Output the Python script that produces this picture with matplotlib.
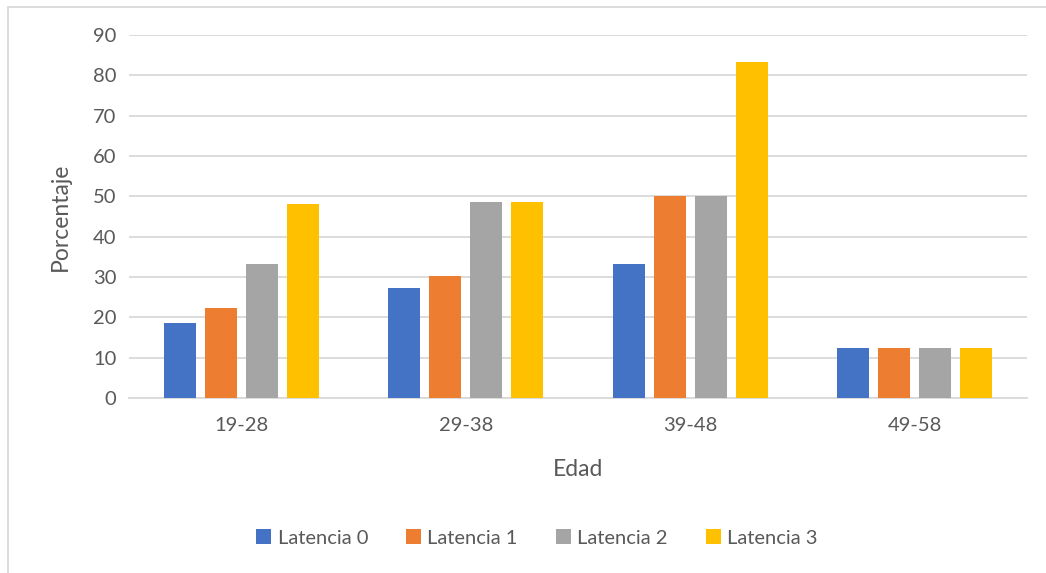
import matplotlib.pyplot as plt
import numpy as np
from matplotlib.patches import Rectangle

plt.rcParams['font.family'] = ['Lato', 'DejaVu Sans']

# datos por grupo de edad
edades = ['19-28', '29-38', '39-48', '49-58']
series = ['Latencia 0', 'Latencia 1', 'Latencia 2', 'Latencia 3']
latencia0 = [18.5, 27.3, 33.3, 12.5]
latencia1 = [22.2, 30.3, 50.0, 12.5]
latencia2 = [33.3, 48.5, 50.0, 12.5]
latencia3 = [48.1, 48.5, 83.3, 12.5]
colores = ['#4472C4', '#ED7D31', '#A5A5A5', '#FFC000']

gris_texto = '#595959'
gris_linea = '#D9D9D9'

fig = plt.figure(figsize=(10.46, 5.73), dpi=100)
ax = fig.add_axes([129/1046, 1 - 398/573, (1027-129)/1046, (398-35)/573])

x = np.arange(len(edades))
paso = 0.1826
ancho = 0.1425
for i, (vals, nombre) in enumerate(zip([latencia0, latencia1, latencia2, latencia3], series)):
    ax.bar(x + (i - 1.5) * paso, vals, ancho, color=colores[i], label=nombre, zorder=3)

ax.set_xlim(-0.5, len(edades) - 0.5)
ax.set_ylim(0, 90)
ax.set_yticks(range(0, 91, 10))
ax.set_xticks(x)
ax.set_xticklabels(edades)
ax.yaxis.grid(True, color=gris_linea, linewidth=1.3, zorder=0)
for lado in ['top', 'right', 'left']:
    ax.spines[lado].set_visible(False)
ax.spines['bottom'].set_color(gris_linea)
ax.spines['bottom'].set_linewidth(1.3)
ax.tick_params(axis='both', length=0, labelsize=14.5, colors=gris_texto)
ax.tick_params(axis='x', pad=14)
ax.tick_params(axis='y', pad=9)

ax.set_xlabel('Edad', fontsize=16.5, color=gris_texto, labelpad=18)
ax.set_ylabel('Porcentaje', fontsize=16.5, color=gris_texto, labelpad=16)

fig.legend(loc='center', bbox_to_anchor=(537/1046, 1 - 538/573), ncol=4,
           frameon=False, fontsize=14.5, labelcolor=gris_texto,
           handlelength=0.75, handleheight=0.75, handletextpad=0.3, columnspacing=1.9)

# marco exterior del grafico
fig.patches.append(Rectangle((8/1046, -0.05), 1.1, 1 - 7/573 + 0.05,
                             transform=fig.transFigure, fill=False,
                             edgecolor=gris_linea, linewidth=1.3))

fig.savefig('out.png', dpi=100, facecolor='white')
